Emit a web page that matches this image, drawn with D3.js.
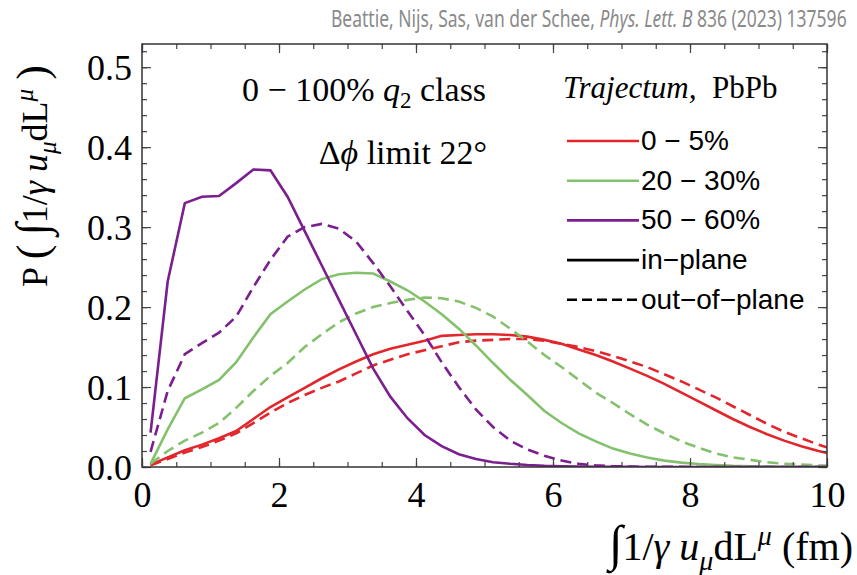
<!DOCTYPE html>
<html>
<head>
<meta charset="utf-8">
<script src="https://cdn.jsdelivr.net/npm/d3@7"></script>
<style>
	body { margin: 0; background: #fff; }
	svg text { font-family: "Liberation Serif", "Times New Roman", serif; }
</style>
</head>
<body>
<svg id="chart" width="857" height="575"></svg>
<script>
// bin centres (fm)
var binCenters = [0.125,0.375,0.625,0.875,1.125,1.375,1.625,1.875,2.125,2.375,2.625,2.875,3.125,3.375,3.625,3.875,4.125,4.375,4.625,4.875,5.125,5.375,5.625,5.875,6.125,6.375,6.625,6.875,7.125,7.375,7.625,7.875,8.125,8.375,8.625,8.875,9.125,9.375,9.625,9.875,10.125];

// 0-5%
var central_in  = [0.003,0.012,0.021,0.028,0.036,0.045,0.060,0.075,0.087,0.099,0.111,0.122,0.132,0.141,0.148,0.153,0.158,0.164,0.165,0.166,0.166,0.165,0.163,0.159,0.154,0.147,0.140,0.132,0.123,0.114,0.104,0.093,0.082,0.071,0.060,0.050,0.041,0.033,0.026,0.020,0.015];
var central_out = [0.002,0.010,0.018,0.025,0.033,0.042,0.055,0.068,0.080,0.090,0.099,0.107,0.117,0.127,0.134,0.141,0.146,0.151,0.156,0.158,0.159,0.160,0.160,0.158,0.154,0.150,0.145,0.139,0.132,0.125,0.116,0.107,0.097,0.087,0.076,0.065,0.054,0.044,0.036,0.028,0.021];
// 20-30%
var mid_in  = [0.004,0.047,0.086,0.097,0.109,0.131,0.162,0.191,0.207,0.222,0.235,0.241,0.243,0.242,0.232,0.221,0.207,0.191,0.173,0.152,0.130,0.109,0.090,0.070,0.055,0.042,0.032,0.023,0.017,0.012,0.008,0.0055,0.0037,0.0025,0.0015,0.001,0.0006,0.0004,0.0003,0.0002,0.0001];
var mid_out = [0.004,0.020,0.033,0.043,0.055,0.074,0.095,0.114,0.130,0.150,0.166,0.181,0.192,0.200,0.205,0.209,0.212,0.211,0.207,0.199,0.188,0.173,0.157,0.140,0.125,0.109,0.093,0.080,0.066,0.053,0.042,0.032,0.024,0.017,0.012,0.009,0.006,0.004,0.003,0.002,0.0015];
// 50-60%
var periph_in  = [0.043,0.232,0.330,0.338,0.339,0.355,0.372,0.371,0.338,0.295,0.252,0.209,0.166,0.123,0.088,0.061,0.040,0.026,0.016,0.010,0.006,0.004,0.0025,0.0015,0.001,0.0006,0.0004,0.0002,0.0001,0,0,0,0,0,0,0,0,0,0,0,0];
var periph_out = [0.019,0.095,0.141,0.155,0.168,0.188,0.225,0.259,0.288,0.300,0.304,0.298,0.282,0.255,0.226,0.195,0.165,0.131,0.100,0.072,0.050,0.033,0.022,0.014,0.008,0.004,0.002,0.001,0.0005,0.0003,0.0002,0.0001,0,0,0,0,0,0,0,0,0];

var classLabels = ["0 \u2212 5%", "20 \u2212 30%", "50 \u2212 60%"];
var classColors = ["#e3262b", "#84c16c", "#7b1e8e"];
var xTicks = [0, 2, 4, 6, 8, 10];
var yTicks = [0, 0.1, 0.2, 0.3, 0.4, 0.5];

var series = [
	{ values: central_in,  color: classColors[0], dash: null },
	{ values: central_out, color: classColors[0], dash: "11,6" },
	{ values: mid_in,      color: classColors[1], dash: null },
	{ values: mid_out,     color: classColors[1], dash: "11,6" },
	{ values: periph_in,   color: classColors[2], dash: null },
	{ values: periph_out,  color: classColors[2], dash: "11,6" }
];

var svg = d3.select("#chart");
var L = 142, R = 827, T = 44, B = 467;

var x = d3.scaleLinear().domain([0, 10]).range([L, R]);
var y = d3.scaleLinear().domain([0, 0.529]).range([B, T]);

// header, squeezed to the width of the original (narrow font)
var hdr = svg.append("g");
var hdrText = hdr.append("text")
	.attr("x", 0).attr("y", 0)
	.style("font-family", "'Noto Sans', sans-serif")
	.style("font-size", "23px")
	.attr("fill", "#8a8a8a")
	.call(function(t) {
		t.append("tspan").text("Beattie, Nijs, Sas, van der Schee, ");
		t.append("tspan").style("font-style", "italic").text("Phys. Lett. B");
		t.append("tspan").text(" 836 (2023) 137596");
	});
var hw = hdrText.node().getComputedTextLength();
hdr.attr("transform", "translate(331,27) scale(" + (516 / hw) + ",1)");

// curves
svg.append("clipPath").attr("id", "plotclip")
	.append("rect").attr("x", L).attr("y", T).attr("width", R - L).attr("height", B - T);

var line = d3.line()
	.x(function(d, i) { return x(binCenters[i]); })
	.y(function(d) { return y(d); });

svg.append("g").attr("clip-path", "url(#plotclip)")
	.selectAll("path")
	.data(series)
	.enter().append("path")
	.attr("d", function(s) { return line(s.values); })
	.attr("fill", "none")
	.attr("stroke", function(s) { return s.color; })
	.attr("stroke-width", 2.6)
	.attr("stroke-dasharray", function(s) { return s.dash; });

// axes, ticks pointing inward on all four sides
var minorX = d3.range(0, 10.01, 0.5);
var minorY = d3.range(0, 0.521, 0.02);

function tickAxis(axis, pos, values, size, labels) {
	var g = svg.append("g").attr("transform", pos)
		.call(axis.tickValues(values).tickSize(-size).tickPadding(10)
			.tickFormat(labels ? labels : ""));
	g.select(".domain").remove();
	g.selectAll("line").attr("stroke", "#444").attr("stroke-width", 1.2);
	g.selectAll("text").style("font-size", "36px").attr("fill", "#000")
		.style("font-family", "'Liberation Serif', serif");
	return g;
}

tickAxis(d3.axisBottom(x), "translate(0," + B + ")", minorX, 5);
tickAxis(d3.axisTop(x), "translate(0," + T + ")", minorX, 5);
tickAxis(d3.axisLeft(y), "translate(" + L + ",0)", minorY, 5);
tickAxis(d3.axisRight(y), "translate(" + R + ",0)", minorY, 5);

var gx = tickAxis(d3.axisBottom(x), "translate(0," + B + ")", xTicks, 9, d3.format("d"));
gx.selectAll("text").attr("dy", "0.82em");
tickAxis(d3.axisTop(x), "translate(0," + T + ")", xTicks, 9);
var gy = tickAxis(d3.axisLeft(y), "translate(" + L + ",0)", yTicks, 9, d3.format(".1f"));
gy.selectAll("text").attr("dy", "0.34em");
tickAxis(d3.axisRight(y), "translate(" + R + ",0)", yTicks, 9);

svg.append("rect")
	.attr("x", L).attr("y", T).attr("width", R - L).attr("height", B - T)
	.attr("fill", "none").attr("stroke", "#333").attr("stroke-width", 1.5);

// axis titles
function integrand(t, size) {
	t.append("tspan").style("font-size", (size * 1.25) + "px").text("\u222B");
	t.append("tspan").text("1/");
	t.append("tspan").style("font-style", "italic").text("\u03B3 u");
	t.append("tspan").style("font-style", "italic").style("font-size", (size * 0.7) + "px")
		.attr("dy", size * 0.25).text("\u03BC");
	t.append("tspan").attr("dy", -size * 0.25).text("dL");
	t.append("tspan").style("font-style", "italic").style("font-size", (size * 0.7) + "px")
		.attr("dy", -size * 0.38).text("\u03BC");
}

svg.append("text")
	.attr("transform", "translate(47,176) rotate(-90)")
	.attr("text-anchor", "middle")
	.style("font-size", "36px")
	.call(function(t) {
		t.append("tspan").text("P ");
		t.append("tspan").style("font-size", "44px").text("(");
		t.append("tspan").text(" ");
		integrand(t, 36);
		t.append("tspan").attr("dy", 36 * 0.38).text(" ");
		t.append("tspan").style("font-size", "44px").text(")");
	});

svg.append("text")
	.attr("x", 853).attr("y", 560)
	.attr("text-anchor", "end")
	.style("font-size", "40px")
	.call(function(t) {
		integrand(t, 40);
		t.append("tspan").attr("dy", 40 * 0.38).text(" (fm)");
	});

// annotations
svg.append("text").attr("x", 242).attr("y", 101).style("font-size", "34px")
	.call(function(t) {
		t.append("tspan").text("0 \u2212 100% ");
		t.append("tspan").style("font-style", "italic").text("q");
		t.append("tspan").style("font-size", "23px").attr("dy", 7).text("2");
		t.append("tspan").attr("dy", -7).text(" class");
	});

svg.append("text").attr("x", 487).attr("y", 164).attr("text-anchor", "end").style("font-size", "34px")
	.call(function(t) {
		t.append("tspan").text("\u0394");
		t.append("tspan").style("font-style", "italic").text("\u03D5");
		t.append("tspan").text(" limit 22\u00B0");
	});

// legend
svg.append("text").attr("x", 563).attr("y", 98).style("font-size", "31px")
	.call(function(t) {
		t.append("tspan").style("font-style", "italic").text("Trajectum,");
		t.append("tspan").text("\u00A0\u00A0PbPb");
	});

var legendItems = [
	{ label: classLabels[0], color: classColors[0], dash: null },
	{ label: classLabels[1], color: classColors[1], dash: null },
	{ label: classLabels[2], color: classColors[2], dash: null },
	{ label: "in\u2212plane", color: "#000", dash: null },
	{ label: "out\u2212of\u2212plane", color: "#000", dash: "10,5" }
];

var lg = svg.append("g").selectAll("g")
	.data(legendItems)
	.enter().append("g")
	.attr("transform", function(d, i) { return "translate(567," + (141 + i * 39.7) + ")"; });

lg.append("line")
	.attr("x1", 0).attr("x2", 72)
	.attr("stroke", function(d) { return d.color; })
	.attr("stroke-width", 2.6)
	.attr("stroke-dasharray", function(d) { return d.dash; });

lg.append("text")
	.attr("x", 74).attr("y", 9)
	.style("font-family", "'Liberation Sans', Arial, sans-serif")
	.style("font-size", "28px")
	.text(function(d) { return d.label; });
</script>
</body>
</html>
